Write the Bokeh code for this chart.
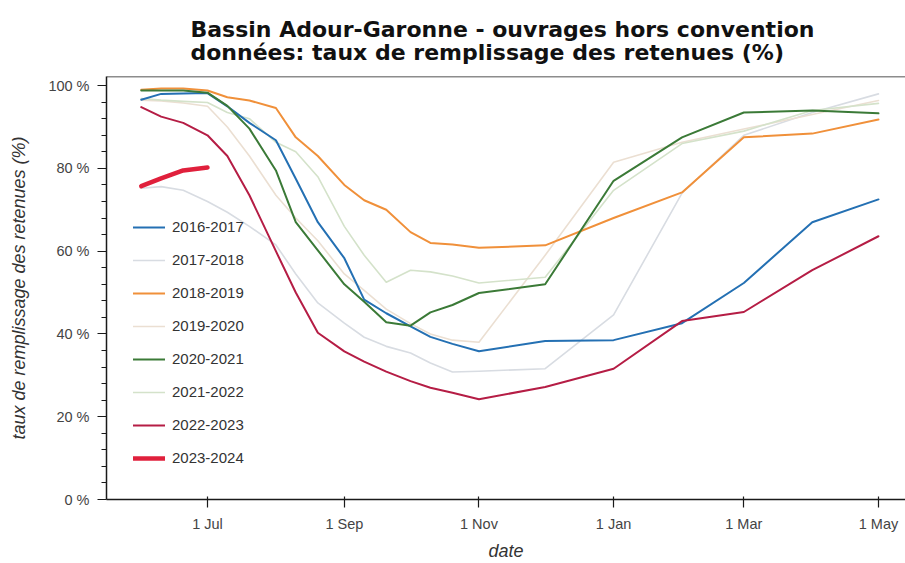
import pandas as pd
from bokeh.plotting import figure
from bokeh.models import FixedTicker, Legend, LegendItem, Title, Range1d, Span
from bokeh.embed import file_html
from bokeh.resources import INLINE

# ---------------- data ----------------
dates = ["2022-06-01", "2022-06-10", "2022-06-20", "2022-07-01", "2022-07-10", "2022-07-20",
         "2022-08-01", "2022-08-10", "2022-08-20", "2022-09-01", "2022-09-10", "2022-09-20",
         "2022-10-01", "2022-10-10", "2022-10-20", "2022-11-01", "2022-12-01", "2023-01-01",
         "2023-02-01", "2023-03-01", "2023-04-01", "2023-05-01"]

seasons = ["2016-2017", "2017-2018", "2018-2019", "2019-2020",
           "2020-2021", "2021-2022", "2022-2023", "2023-2024"]

s2016_2017 = [96.6, 98.0, 98.1, 98.2, 95.0, 91.0, 86.8, 77.5, 67.0, 58.3, 48.3, 45.0,
              41.8, 39.3, 37.6, 35.8, 38.3, 38.5, 42.6, 52.3, 67.0, 72.5]
s2017_2018 = [75.2, 75.6, 74.7, 72.0, 69.4, 66.0, 61.5, 54.5, 47.5, 42.6, 39.2, 37.0,
              35.4, 33.0, 30.8, 31.0, 31.6, 44.6, 74.0, 88.0, 93.5, 98.0]
s2018_2019 = [99.0, 99.3, 99.3, 98.8, 97.2, 96.4, 94.6, 87.5, 83.0, 76.0, 72.3, 70.0,
              64.6, 62.0, 61.6, 60.8, 61.4, 68.0, 74.2, 87.5, 88.4, 91.8]
s2019_2020 = [96.5, 96.3, 95.8, 95.0, 90.0, 83.0, 73.5, 68.0, 62.5, 54.5, 50.5, 46.0,
              42.5, 40.0, 38.5, 38.0, 59.0, 81.5, 86.3, 89.5, 93.0, 96.4]
s2020_2021 = [98.8, 98.8, 98.8, 98.3, 95.1, 89.6, 79.5, 67.0, 60.2, 52.0, 47.8, 42.8,
              42.0, 45.2, 47.0, 49.9, 52.0, 77.0, 87.5, 93.5, 94.0, 93.3]
s2021_2022 = [96.9, 96.5, 96.2, 95.9, 93.5, 92.0, 86.3, 84.0, 78.0, 66.0, 59.0, 52.5,
              55.4, 55.0, 54.0, 52.3, 53.7, 74.7, 86.0, 89.0, 94.0, 95.7]
s2022_2023 = [94.8, 92.5, 91.0, 88.0, 83.0, 73.5, 60.0, 50.0, 40.3, 35.8, 33.3, 30.9,
              28.6, 27.0, 25.8, 24.2, 27.2, 31.6, 43.1, 45.3, 55.4, 63.6]
s2023_2024 = [75.7, 77.6, 79.5, 80.2]

x_tick_dates = ["2022-07-01", "2022-09-01", "2022-11-01", "2023-01-01", "2023-03-01", "2023-05-01"]
x_tick_labels = ["1 Jul", "1 Sep", "1 Nov", "1 Jan", "1 Mar", "1 May"]
y_ticks = [0, 20, 40, 60, 80, 100]
y_tick_labels = ["0 %", "20 %", "40 %", "60 %", "80 %", "100 %"]
y_minor = [v for v in range(4, 100, 4) if v % 20 != 0]

title_lines = ["Bassin Adour-Garonne - ouvrages hors convention",
               "données: taux de remplissage des retenues (%)"]
y_label = "taux de remplissage des retenues (%)"
x_label = "date"

# ---------------- styling ----------------
colors = {
    "2016-2017": "#2470b3",
    "2017-2018": "#d8dce2",
    "2018-2019": "#f0903a",
    "2019-2020": "#ebdfd2",
    "2020-2021": "#3b7a37",
    "2021-2022": "#d4e2ca",
    "2022-2023": "#b51d45",
    "2023-2024": "#e0203c",
}
widths = {s: 2 for s in seasons}
for s in ["2017-2018", "2019-2020", "2021-2022"]:
    widths[s] = 1.6
widths["2023-2024"] = 4.5

xd = pd.to_datetime(dates)
values = {
    "2016-2017": s2016_2017, "2017-2018": s2017_2018, "2018-2019": s2018_2019,
    "2019-2020": s2019_2020, "2020-2021": s2020_2021, "2021-2022": s2021_2022,
    "2022-2023": s2022_2023, "2023-2024": s2023_2024,
}

p = figure(width=905, height=563, x_axis_type="datetime",
           x_range=Range1d(pd.Timestamp("2022-05-16 06:00"), pd.Timestamp("2023-05-13 06:00")),
           y_range=Range1d(0, 102.2),
           output_backend="svg", toolbar_location=None, title=None,
           min_border_left=106, min_border_right=0, min_border_top=76, min_border_bottom=63,
           background_fill_color="white", border_fill_color="white",
           outline_line_color=None)
p.xgrid.visible = False
p.ygrid.visible = False

renderers = {}
draw_order = ["2017-2018", "2019-2020", "2021-2022", "2016-2017", "2018-2019",
              "2022-2023", "2020-2021", "2023-2024"]
for s in draw_order:
    ys = values[s]
    renderers[s] = p.line(x=list(xd[:len(ys)]), y=ys, line_color=colors[s],
                          line_width=widths[s], line_join="round", line_cap="round")

# axes
axis_col = "#1a1a1a"
tick_ms = [int(pd.Timestamp(d).value // 10**6) for d in x_tick_dates]
p.xaxis.ticker = FixedTicker(ticks=tick_ms, minor_ticks=[])
p.xaxis.major_label_overrides = {t: l for t, l in zip(tick_ms, x_tick_labels)}
p.yaxis.ticker = FixedTicker(ticks=y_ticks, minor_ticks=y_minor)
p.yaxis.major_label_overrides = {t: l for t, l in zip(y_ticks, y_tick_labels)}

for ax in (p.xaxis[0], p.yaxis[0]):
    ax.axis_line_color = axis_col
    ax.axis_line_width = 1.5
    ax.major_tick_line_color = axis_col
    ax.major_tick_line_width = 1.2
    ax.minor_tick_line_color = axis_col
    ax.minor_tick_line_width = 1.0
    ax.major_label_text_font = "Liberation Sans"
    ax.major_label_text_font_size = "14.5px"
    ax.major_label_text_color = "#444444"
    ax.axis_label_text_font = "Liberation Sans"
    ax.axis_label_text_font_size = "18px"
    ax.axis_label_text_font_style = "italic"
    ax.axis_label_text_color = "#333333"

p.xaxis.major_tick_in = 3
p.xaxis.major_tick_out = 8
p.xaxis.major_label_standoff = 8
p.xaxis.axis_label = x_label
p.xaxis.axis_label_standoff = 6

p.yaxis.major_tick_in = 0
p.yaxis.major_tick_out = 9
p.yaxis.minor_tick_in = 0
p.yaxis.minor_tick_out = 5
p.yaxis.major_label_standoff = 8
p.yaxis.axis_label = y_label
p.yaxis.axis_label_standoff = 16

# top border of the plotting area
p.add_layout(Span(location=p.y_range.end, dimension="width", line_color=axis_col,
                  line_width=1.5))

p.add_layout(Title(text="\n".join(title_lines), align="left", offset=84,
                   text_font="DejaVu Sans", text_font_size="22px", text_font_style="bold",
                   text_color="#111111", text_line_height=0.91, standoff=23), "above")

legend = Legend(items=[LegendItem(label=s, renderers=[renderers[s]]) for s in seasons],
                location=(27, 33), padding=0, margin=0, spacing=16,
                glyph_width=32, glyph_height=16, label_height=16, label_standoff=7,
                label_text_font="Liberation Sans", label_text_font_size="15px",
                label_text_color="#333333", border_line_color=None,
                background_fill_alpha=0)
p.add_layout(legend)

open("out.html", "w").write(file_html(p, INLINE))
